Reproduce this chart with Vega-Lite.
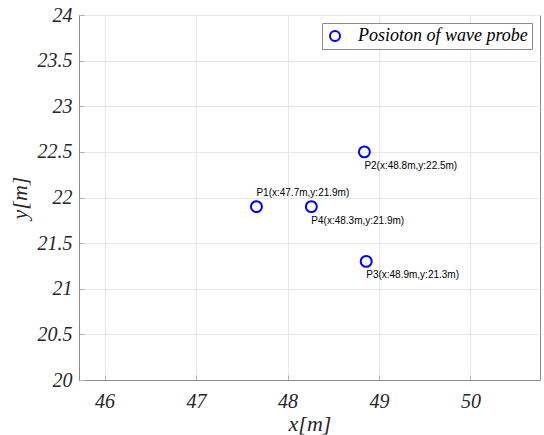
{
  "$schema": "https://vega.github.io/schema/vega-lite/v6.json",
  "autosize": "none",
  "width": 461,
  "height": 365,
  "padding": {"left": 79, "top": 15, "right": 4, "bottom": 55},
  "background": "white",
  "config": {
    "view": {"stroke": "#8c8c8c", "strokeWidth": 1}
  },
  "data": {
    "values": [
      {"name": "P1", "x": 47.66, "y": 21.9, "label": "P1(x:47.7m,y:21.9m)", "series": "Posioton of wave probe"},
      {"name": "P2", "x": 48.84, "y": 22.5, "label": "P2(x:48.8m,y:22.5m)", "series": "Posioton of wave probe"},
      {"name": "P3", "x": 48.86, "y": 21.3, "label": "P3(x:48.9m,y:21.3m)", "series": "Posioton of wave probe"},
      {"name": "P4", "x": 48.26, "y": 21.9, "label": "P4(x:48.3m,y:21.9m)", "series": "Posioton of wave probe"}
    ]
  },
  "encoding": {
    "x": {
      "field": "x",
      "type": "quantitative",
      "scale": {"domain": [45.72, 50.76], "nice": false, "zero": false},
      "axis": {
        "values": [46, 47, 48, 49, 50], "format": "~g", "title": "x[m]",
        "labelFont": "Liberation Serif", "labelFontStyle": "italic", "labelFontSize": 20, "labelColor": "#262626",
        "titleFont": "Liberation Serif", "titleFontStyle": "italic", "titleFontWeight": "normal", "titleFontSize": 22, "titleColor": "#262626",
        "domainColor": "#8c8c8c", "tickColor": "#b0b0b0", "tickSize": -5,
        "gridColor": "#e8e8e8", "labelPadding": 16, "titlePadding": 2
      }
    },
    "y": {
      "field": "y",
      "type": "quantitative",
      "scale": {"domain": [20, 24], "nice": false, "zero": false},
      "axis": {
        "values": [20, 20.5, 21, 21.5, 22, 22.5, 23, 23.5, 24], "format": "~g", "title": "y[m]",
        "labelFont": "Liberation Serif", "labelFontStyle": "italic", "labelFontSize": 20, "labelColor": "#262626",
        "titleFont": "Liberation Serif", "titleFontStyle": "italic", "titleFontWeight": "normal", "titleFontSize": 22, "titleColor": "#262626",
        "domainColor": "#8c8c8c", "tickColor": "#b0b0b0", "tickSize": -5,
        "gridColor": "#e8e8e8", "labelPadding": 12, "titlePadding": 6
      }
    }
  },
  "layer": [
    {
      "mark": {"type": "point", "shape": "circle", "filled": false, "size": 120, "strokeWidth": 2, "opacity": 1},
      "encoding": {
        "color": {
          "field": "series",
          "type": "nominal",
          "scale": {"range": ["#0000ff"]},
          "legend": {
            "title": null,
            "orient": "top-right",
            "offset": 8,
            "padding": 4,
            "strokeColor": "#8c8c8c",
            "fillColor": "white",
            "labelFont": "Liberation Serif",
            "labelFontStyle": "italic",
            "labelFontSize": 18,
            "labelColor": "#000000",
            "labelLimit": 0,
            "symbolType": "circle",
            "symbolSize": 100,
            "symbolStrokeWidth": 2,
            "symbolOpacity": 1,
            "symbolFillColor": "transparent",
            "labelOffset": 14
          }
        }
      }
    },
    {
      "transform": [{"filter": "datum.name === 'P1'"}],
      "mark": {"type": "text", "align": "left", "dy": -14, "font": "Liberation Sans", "fontSize": 10, "color": "#000000"},
      "encoding": {"text": {"field": "label"}}
    },
    {
      "transform": [{"filter": "datum.name !== 'P1'"}],
      "mark": {"type": "text", "align": "left", "dy": 14, "font": "Liberation Sans", "fontSize": 10, "color": "#000000"},
      "encoding": {"text": {"field": "label"}}
    }
  ]
}
